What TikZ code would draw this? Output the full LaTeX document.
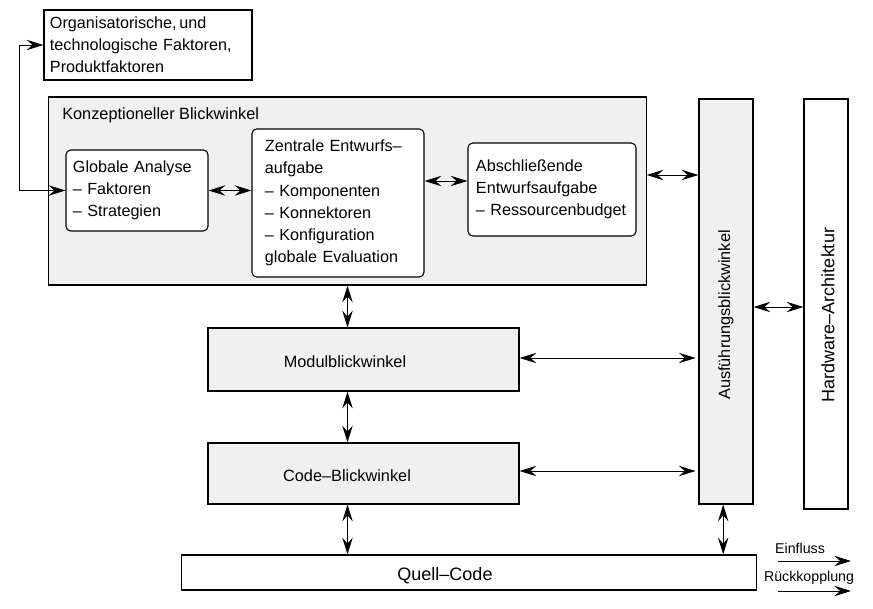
\documentclass[tikz,border=0pt]{standalone}
\usepackage{fontspec}
\setmainfont{Liberation Sans}
\usepackage{tikz}
\usetikzlibrary{positioning,arrows.meta,calc}
\definecolor{boxgray}{gray}{0.94}
\tikzset{
  >={Stealth[length=4.2mm,width=2.6mm,inset=1.5mm]},
  viewbox/.style={draw=black,line width=0.8pt,fill=boxgray,inner sep=0pt},
  plainbox/.style={draw=black,line width=0.8pt,fill=white,inner sep=0pt},
  taskbox/.style={draw=black,line width=0.8pt,fill=white,rounded corners=1.2mm,
    align=left,inner ysep=0pt,font=\fontsize{11.5}{15.8}\selectfont},
  boxlbl/.style={font=\fontsize{11.6}{15.6}\selectfont,inner sep=0pt},
  biglbl/.style={font=\fontsize{12.8}{15}\selectfont,inner sep=0pt},
  keylbl/.style={font=\fontsize{10.1}{12}\selectfont,inner sep=0pt},
  link/.style={<->,line width=0.7pt},
  keyarrow/.style={->,line width=0.7pt},
}
\begin{document}
\begin{tikzpicture}[x=0.025cm,y=-0.025cm]
  \useasboundingbox (0,0) rectangle (873,609);
  % sichten
  \node[viewbox,minimum width=14.925cm,minimum height=4.7cm] (konz) at (347.5,191) {};
  \node[boxlbl,anchor=west] (konzlbl) at (62,115) {Konzeptioneller Blickwinkel};
  \node[viewbox,minimum width=1.35cm,minimum height=10.125cm] (ausf) at (726,301.5) {};
  \node[boxlbl,rotate=90] (ausflbl) at (726,315) {Ausführungsblickwinkel};
  \node[plainbox,minimum width=1.1cm,minimum height=10.25cm] (hw) at (826,304) {};
  \node[biglbl,rotate=90] (hwlbl) at (828,315) {Hardware–Architektur};
  \node[viewbox,minimum width=7.775cm,minimum height=1.575cm] (modul) at (363.5,359.5) {};
  \node[boxlbl] (modullbl) at (345,362) {Modulblickwinkel};
  \node[viewbox,minimum width=7.775cm,minimum height=1.525cm] (code) at (363.5,473.5) {};
  \node[boxlbl] (codelbl) at (347,476) {Code–Blickwinkel};
  \node[plainbox,minimum width=14.375cm,minimum height=0.875cm] (quell) at (469,572.5) {};
  \node[biglbl] (quelllbl) at (445,576) {Quell–Code};
  % faktoren und aufgaben
  \node[taskbox,rounded corners=0pt,text width=4.9cm,inner xsep=0.15cm,
    minimum height=1.75cm] (org) at (148,45)
    {Organisatorische,\,und\\technologische Faktoren,\\Produktfaktoren};
  \node[taskbox,text width=3.2cm,inner xsep=0.175cm,minimum height=2.025cm]
    (glob) at (137,190.5) {Globale Analyse\\– Faktoren\\– Strategien};
  \node[taskbox,text width=3.65cm,inner xsep=0.325cm,minimum height=3.7cm]
    (zent) at (338,203) {Zentrale Entwurfs–\\aufgabe\\– Komponenten\\– Konnektoren\\– Konfiguration\\globale Evaluation};
  \node[taskbox,text width=3.8cm,inner xsep=0.2cm,minimum height=2.325cm]
    (absch) at (552,189.5) {Abschließende\\Entwurfsaufgabe\\– Ressourcenbudget};
  % verbindungen
  \draw[link] (org.west) -- ++(-24,0) |- (glob.west);
  \draw[link] (glob.east) -- (zent.west |- glob.east);
  \draw[link] (zent.east |- 0,181) -- (absch.west |- 0,181);
  \draw[link] (konz.east |- 0,175) -- (ausf.west |- 0,175);
  \draw[link] (ausf.east |- 0,307) -- (hw.west |- 0,307);
  \draw[link] (modul.east |- 0,358) -- ([xshift=-2]ausf.west |- 0,358);
  \draw[link] (code.east |- 0,471) -- ([xshift=-2]ausf.west |- 0,471);
  \draw[link] (konz.south) -- (modul.north -| konz.south);
  \draw[link] (modul.south -| konz.south) -- (code.north -| konz.south);
  \draw[link] (code.south -| konz.south) -- (quell.north -| konz.south);
  \draw[link] ([xshift=-2]ausf.south) -- ([xshift=-2]quell.north -| ausf.south);
  % legende
  \node[keylbl] (einfl) at (800,548) {Einfluss};
  \node[keylbl] (rueck) at (809,578) {Rückkopplung};
  \coordinate (e1) at (778,561);
  \coordinate (e2) at (851,561);
  \coordinate (r1) at (778,591);
  \coordinate (r2) at (851,591);
  \draw[keyarrow] (e1) -- (e2);
  \draw[keyarrow] (r1) -- (r2);
\end{tikzpicture}
\end{document}
